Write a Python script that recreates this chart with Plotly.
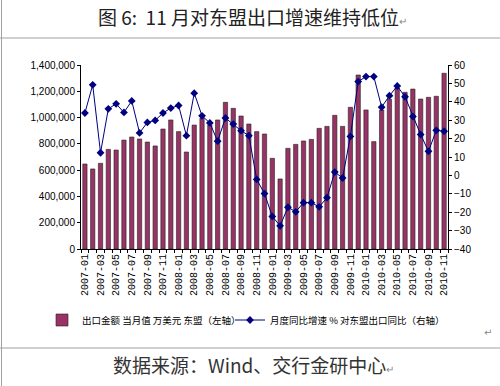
import plotly.graph_objects as go

months = [
    "2007-01", "2007-02", "2007-03", "2007-04", "2007-05", "2007-06", "2007-07", "2007-08",
    "2007-09", "2007-10", "2007-11", "2007-12", "2008-01", "2008-02", "2008-03", "2008-04",
    "2008-05", "2008-06", "2008-07", "2008-08", "2008-09", "2008-10", "2008-11", "2008-12",
    "2009-01", "2009-02", "2009-03", "2009-04", "2009-05", "2009-06", "2009-07", "2009-08",
    "2009-09", "2009-10", "2009-11", "2009-12", "2010-01", "2010-02", "2010-03", "2010-04",
    "2010-05", "2010-06", "2010-07", "2010-08", "2010-09", "2010-10", "2010-11",
]
exports = [
    647000, 609000, 652000, 758000, 753000, 829000, 852000, 837000,
    814000, 784000, 913000, 982000, 893000, 738000, 943000, 994000,
    943000, 982000, 1116000, 1070000, 1012000, 951000, 893000, 875000,
    690000, 533000, 766000, 796000, 822000, 834000, 918000, 933000,
    1017000, 933000, 1078000, 1324000, 1058000, 817000, 1058000, 1139000,
    1225000, 1192000, 1217000, 1141000, 1154000, 1162000, 1337000,
]
yoy = [
    33.9, 49.2, 12.3, 36.2, 38.9, 34.2, 40.5, 23.1,
    28.8, 29.9, 33.9, 36.6, 38.0, 21.6, 44.7, 32.4,
    28.5, 18.6, 31.2, 27.9, 24.3, 21.6, -2.2, -9.9,
    -22.3, -27.4, -17.3, -19.8, -14.8, -14.8, -17.1, -12.1,
    1.8, -1.4, 21.2, 51.0, 53.7, 53.7, 37.1, 43.3,
    48.6, 42.7, 32.0, 22.2, 13.1, 24.5, 24.0,
]
tick_text = [m if i % 2 == 0 else "" for i, m in enumerate(months)]

bar_name = "出口金额 当月值 万美元 东盟（左轴）"
line_name = "月度同比增速 % 对东盟出口同比（右轴）"
title_text = "图 6:  11 月对东盟出口增速维持低位"
source_text = "数据来源：Wind、交行金研中心"

W, H = 500, 386
L, R, T, B = 81, 52, 65, 137
pw, ph = W - L - R, H - T - B


def px(x):
    return (x - L) / pw


def py(y):
    return (H - B - y) / ph


fig = go.Figure()
fig.add_trace(go.Bar(
    x=months, y=exports, name=bar_name,
    marker=dict(color="#993366", line=dict(color="#222222", width=0.6)),
    yaxis="y", legend="legend",
))
fig.add_trace(go.Scatter(
    x=months, y=yoy, name=line_name, mode="lines+markers",
    line=dict(color="#000080", width=1),
    marker=dict(symbol="diamond", size=6, color="#000080"),
    yaxis="y2", legend="legend2",
))

cjk = "Noto Sans CJK SC"
leg_common = dict(orientation="h", xref="container", yref="paper", xanchor="left",
                  y=py(320), yanchor="middle", font=dict(family=cjk, size=9.5, color="#000"),
                  itemwidth=30, bgcolor="rgba(0,0,0,0)", borderwidth=0)
fig.update_layout(
    width=W, height=H,
    margin=dict(l=L, r=R, t=T, b=B, autoexpand=False),
    paper_bgcolor="white", plot_bgcolor="white",
    bargap=0.45,
    showlegend=True,
    legend=dict(x=42 / W, **leg_common),
    legend2=dict(x=230 / W, **leg_common),
    xaxis=dict(
        type="category", tickmode="array", tickvals=months, ticktext=tick_text,
        tickangle=-90, tickson="boundaries", ticks="outside", ticklen=3,
        tickcolor="#000", showline=True, linecolor="#000", linewidth=1,
        showgrid=False, tickfont=dict(family="Liberation Mono", size=10, color="#000"),
        range=[-0.5, len(months) - 0.5],
    ),
    yaxis=dict(
        range=[0, 1400000], dtick=200000, tickformat=",",
        ticks="outside", ticklen=3, tickcolor="#000",
        showline=True, linecolor="#000", linewidth=1, showgrid=False, zeroline=False,
        tickfont=dict(family="Liberation Sans", size=10, color="#000"),
    ),
    yaxis2=dict(
        range=[-40, 60], dtick=10, overlaying="y", side="right",
        ticks="outside", ticklen=3, tickcolor="#000",
        showline=True, linecolor="#000", linewidth=1, showgrid=False, zeroline=False,
        tickfont=dict(family="Liberation Sans", size=10, color="#000"),
    ),
    shapes=[
        dict(type="line", xref="paper", yref="paper", x0=px(0), x1=px(500), y0=py(38), y1=py(38),
             line=dict(color="#a0a0a0", width=1)),
        dict(type="line", xref="paper", yref="paper", x0=px(0), x1=px(500), y0=py(348), y1=py(348),
             line=dict(color="#a0a0a0", width=1)),
        dict(type="line", xref="paper", yref="paper", x0=px(1.5), x1=px(1.5), y0=py(0), y1=py(386),
             line=dict(color="#a0a0a0", width=1)),
    ],
    annotations=[
        dict(text=title_text + "<span style='font-size:10px;color:#888'>↵</span>",
             xref="paper", yref="paper", x=px(252), y=py(17), xanchor="center", yanchor="middle",
             showarrow=False, font=dict(family=cjk, size=19, color="#222")),
        dict(text=source_text + "<span style='font-size:10px;color:#888'>↵</span>",
             xref="paper", yref="paper", x=px(253), y=py(364), xanchor="center", yanchor="middle",
             showarrow=False, font=dict(family=cjk, size=19, color="#333")),
        dict(text="↵", xref="paper", yref="paper", x=px(488), y=py(332), xanchor="center",
             yanchor="middle", showarrow=False, font=dict(family="DejaVu Sans", size=10, color="#888")),
    ],
)

fig.write_html("out.html", config={"displayModeBar": False},
               post_script="document.body.style.margin='0px';")
